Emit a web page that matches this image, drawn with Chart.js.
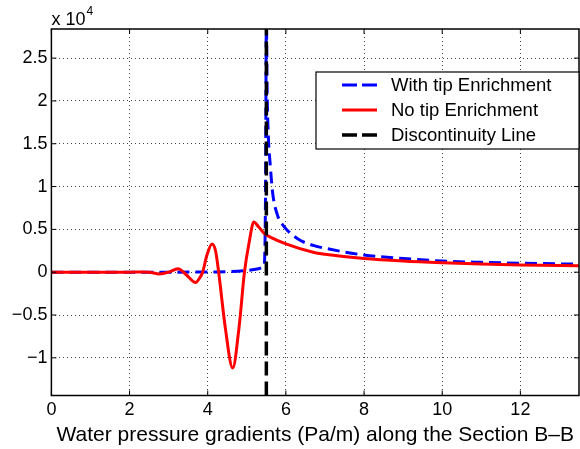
<!DOCTYPE html>
<html>
<head>
<meta charset="utf-8">
<script src="https://cdn.jsdelivr.net/npm/chart.js@4.4.1/dist/chart.umd.min.js"></script>
<style>
  html,body{margin:0;padding:0;background:#fff;}
  #wrap{width:580px;height:449px;}
</style>
</head>
<body>
<div id="wrap"><canvas id="mainChart" width="580" height="449"></canvas></div>
<script>
// axis ticks
const xTicks = [0, 2, 4, 6, 8, 10, 12];
const yTicks = [-10000, -5000, 0, 5000, 10000, 15000, 20000, 25000];

// With tip Enrichment (blue dashed)
const blueX = [0, 1, 2, 3, 4, 4.5, 5, 5.3, 5.4, 5.45, 5.48, 5.5, 5.52, 5.55, 5.6, 5.66, 5.79, 5.96, 6.3, 6.72, 7, 8, 9, 10, 11, 12, 13.5];
const blueY = [0, 0, 0, 0, 30, 60, 200, 400, 550, 1000, 10000, 29500, 21000, 16000, 12500, 9300, 6600, 5300, 3900, 3100, 2800, 2000, 1600, 1300, 1150, 1050, 930];

// No tip Enrichment (red solid)
const redX = [0, 1, 2, 2.3, 2.5, 2.77, 3.0, 3.24, 3.45, 3.69, 3.79, 3.87, 3.98, 4.11, 4.2, 4.28, 4.45, 4.64, 4.8, 4.94, 5.06, 5.18, 5.3, 5.45, 5.6, 6.0, 6.72, 7, 8, 9, 10, 11, 12, 13.5];
const redY = [0, 0, 0, 30, 0, -200, 0, 400, -300, -1200, -700, 0, 2000, 3300, 2500, 0, -6500, -11200, -6500, 0, 3500, 5850, 5300, 4500, 4100, 3300, 2300, 2100, 1600, 1300, 1100, 950, 850, 750];

// Discontinuity line
const discX = [5.5, 5.5];
const discY = [-14400, 28400];

const seriesNames = ['With tip Enrichment', 'No tip Enrichment', 'Discontinuity Line'];

const FONT = "'Liberation Sans', Arial, Helvetica, sans-serif";
const pts = (xs, ys) => xs.map((x, i) => ({x: x, y: ys[i]}));

const matlabLook = {
  id: 'matlabLook',
  afterDraw(chart){
    const {ctx, chartArea: a, scales: {x, y}} = chart;
    ctx.save();
    ctx.strokeStyle = '#000';
    ctx.lineWidth = 1;
    ctx.setLineDash([]);
    const seg = (x1, y1, x2, y2) => { ctx.beginPath(); ctx.moveTo(x1, y1); ctx.lineTo(x2, y2); ctx.stroke(); };
    xTicks.forEach(v => { const p = x.getPixelForValue(v); seg(p, a.bottom, p, a.bottom - 5); seg(p, a.top, p, a.top + 5); });
    yTicks.forEach(v => { const p = y.getPixelForValue(v); seg(a.left, p, a.left + 5, p); seg(a.right, p, a.right - 5, p); });
    ctx.lineWidth = 1.5;
    ctx.strokeRect(a.left, a.top, a.right - a.left, a.bottom - a.top);

    // exponent label
    ctx.fillStyle = '#000';
    ctx.textAlign = 'left';
    ctx.textBaseline = 'alphabetic';
    ctx.font = '18px ' + FONT;
    ctx.fillText('x 10', a.left, a.top - 4);
    const w = ctx.measureText('x 10').width;
    ctx.font = '12px ' + FONT;
    ctx.fillText('4', a.left + w + 1, a.top - 14);

    // legend box
    const bw = 263, bh = 77, bx = a.right - bw, by = a.top + 43;
    ctx.fillStyle = '#fff';
    ctx.fillRect(bx, by, bw, bh);
    ctx.lineWidth = 1.2;
    ctx.strokeStyle = '#000';
    ctx.strokeRect(bx, by, bw, bh);
    chart.data.datasets.forEach((ds, i) => {
      const ly = by + 13 + i * 25;
      ctx.strokeStyle = ds.borderColor;
      ctx.lineWidth = ds.borderWidth;
      ctx.setLineDash(ds.borderDash && ds.borderDash.length ? [15, 5] : []);
      seg(bx + 26, ly, bx + 61, ly);
      ctx.setLineDash([]);
      ctx.fillStyle = '#000';
      ctx.font = '18.5px ' + FONT;
      ctx.textBaseline = 'middle';
      ctx.fillText(ds.label, bx + 75, ly + 1);
    });
    ctx.restore();
  }
};

new Chart(document.getElementById('mainChart'), {
  type: 'line',
  data: {
    datasets: [
      {label: seriesNames[0], data: pts(blueX, blueY), borderColor: '#0000ff', borderWidth: 3, borderDash: [12, 6], cubicInterpolationMode: 'monotone', order: 3},
      {label: seriesNames[1], data: pts(redX, redY), borderColor: '#ff0000', borderWidth: 3, cubicInterpolationMode: 'monotone', order: 2},
      {label: seriesNames[2], data: pts(discX, discY), borderColor: '#000000', borderWidth: 3.5, borderDash: [14, 6], order: 1}
    ]
  },
  options: {
    responsive: false,
    animation: false,
    devicePixelRatio: 1,
    layout: {padding: {top: 29, right: 1, left: 0, bottom: 0}},
    elements: {point: {radius: 0}},
    plugins: {legend: {display: false}, tooltip: {enabled: false}},
    scales: {
      x: {
        type: 'linear', min: 0, max: 13.5,
        afterBuildTicks: s => { s.ticks = xTicks.map(v => ({value: v})); },
        afterFit: s => { s.height = 53.5; },
        ticks: {color: '#000', font: {family: FONT, size: 18}, padding: 4, maxRotation: 0, autoSkip: false},
        grid: {color: '#444', lineWidth: 1, drawTicks: false},
        border: {display: false, dash: [1, 3]},
        title: {display: true, text: 'Water pressure gradients (Pa/m) along the Section B\u2013B', color: '#000', font: {family: FONT, size: 21}, padding: {top: 0, bottom: 1}}
      },
      y: {
        type: 'linear', min: -14400, max: 28400,
        afterBuildTicks: s => { s.ticks = yTicks.map(v => ({value: v})); },
        afterFit: s => { s.width = 51.4; },
        ticks: {color: '#000', font: {family: FONT, size: 18}, padding: 4, callback: v => String(v / 1e4).replace('-', '\u2212')},
        grid: {color: '#444', lineWidth: 1, drawTicks: false},
        border: {display: false, dash: [1, 3]}
      }
    }
  },
  plugins: [matlabLook]
});
</script>
</body>
</html>
